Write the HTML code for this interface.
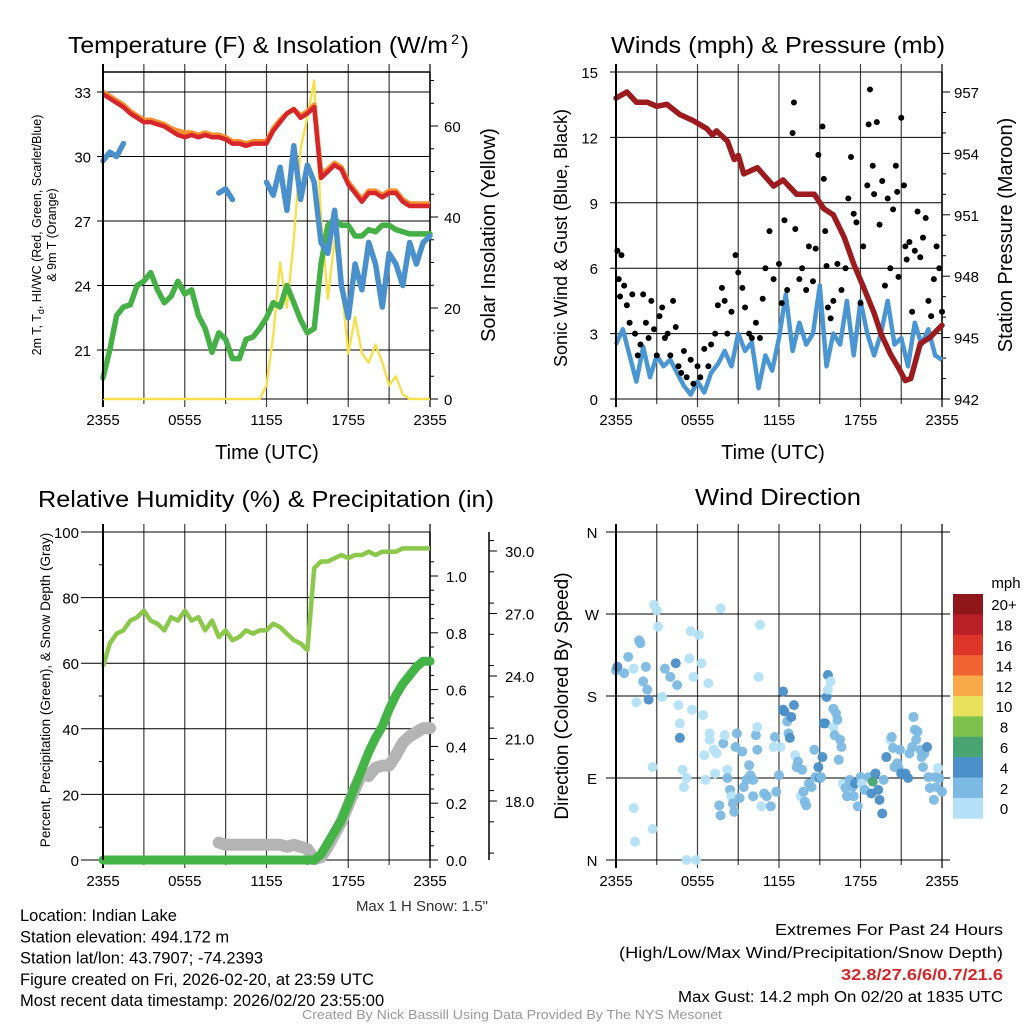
<!DOCTYPE html>
<html><head><meta charset="utf-8">
<style>
html,body{margin:0;padding:0;background:#fff;}
svg{display:block;font-family:"Liberation Sans Narrow","Liberation Sans",sans-serif;}
</style></head>
<body>
<svg id="chart" xmlns="http://www.w3.org/2000/svg" width="1024" height="1024" viewBox="0 0 1024 1024">
<rect x="0" y="0" width="1024" height="1024" fill="#fff"/>
<g id="layer"></g>
</svg>
<script>
// ---------- DATA ----------
const halfHours = [0,0.5,1,1.5,2,2.5,3,3.5,4,4.5,5,5.5,6,6.5,7,7.5,8,8.5,9,9.5,10,10.5,11,11.5,12,12.5,13,13.5,14,14.5,15,15.5,16,16.5,17,17.5,18,18.5,19,19.5,20,20.5,21,21.5,22,22.5,23,23.5,24];
const timeTickLabels = ["2355","0555","1155","1755","2355"];
const tempRed = [32.9,32.7,32.5,32.3,32.0,31.8,31.6,31.6,31.5,31.4,31.2,31.0,30.9,31.0,30.9,31.0,30.9,30.9,30.8,30.6,30.6,30.5,30.6,30.6,30.6,31.2,31.6,32.0,32.2,31.8,32.0,32.3,29.0,29.3,29.6,29.4,28.7,28.3,27.9,28.3,28.3,28.1,28.3,28.3,27.9,27.7,27.7,27.7,27.7];
const tempOrange = [33.0,32.8,32.6,32.4,32.1,31.9,31.7,31.7,31.6,31.5,31.3,31.2,31.1,31.1,31.0,31.1,31.0,31.0,30.9,30.7,30.7,30.6,30.7,30.7,30.7,31.3,31.7,32.0,32.2,31.9,32.1,32.4,29.2,29.4,29.7,29.5,28.8,28.4,28.0,28.4,28.4,28.2,28.4,28.4,28.0,27.8,27.8,27.8,27.8];
const dewGreen = [19.7,21.0,22.6,23.0,23.1,24.0,24.2,24.6,23.8,23.2,23.5,24.2,23.6,23.8,22.6,22.0,20.9,21.8,21.5,20.6,20.6,21.5,21.6,22.0,22.5,23.2,23.0,24.0,23.2,22.4,21.8,22.0,25.0,26.8,27.1,26.8,26.8,26.3,26.3,26.6,26.5,26.8,26.8,26.6,26.5,26.4,26.4,26.4,26.4];
const hiwcBlue = [29.8,30.2,30.0,30.6,null,29.9,null,null,null,null,null,null,null,null,null,null,null,28.3,28.5,28.0,null,29.0,null,null,28.8,28.2,29.5,27.5,30.5,28.0,29.6,28.8,26.0,25.5,27.5,24.0,22.5,25.0,23.8,26.0,25.0,23.0,25.5,25.0,24.0,26.0,25.0,26.0,26.3];
const solarYellow = [0,0,0,0,0,0,0,0,0,0,0,0,0,0,0,0,0,0,0,0,0,0,0,0,3,14,30,20,35,55,62,70,40,22,35,25,10,18,10,8,12,8,3,5,1,0,0,0,0];
const tempTicks = [21,24,27,30,33];
const solarTicks = [0,20,40,60];

const sonicBlue = [2.5,3.2,2.0,0.8,2.4,1.0,2.0,1.5,1.8,1.2,0.6,0.2,0.8,0.3,1.2,1.6,2.2,1.5,3.0,2.2,2.6,0.5,2.0,1.3,2.8,4.8,2.2,3.5,2.5,3.0,5.2,1.5,3.0,2.5,4.5,2.0,4.5,3.0,2.0,3.0,4.5,2.5,2.8,1.5,3.5,2.5,3.2,2.0,1.8];
const gustHours = [0.1,0.2,0.3,0.4,0.6,0.8,1,1.2,1.4,1.6,1.8,2,2.2,2.4,2.6,2.8,3,3.2,3.4,3.6,3.8,4,4.2,4.4,4.6,4.8,5,5.2,5.5,5.7,6,6.2,6.5,6.8,7,7.3,7.5,7.8,8,8.2,8.5,8.8,9,9.3,9.5,9.8,10,10.3,10.6,10.8,11,11.3,11.6,12,12.2,12.4,12.6,13.0,13.1,13.2,13.5,13.7,14,14.2,14.5,14.7,14.9,15.2,15.3,15.4,15.5,15.6,15.8,16,16.3,16.6,16.9,17.1,17.3,17.5,17.7,18,18.2,18.5,18.6,18.7,18.9,19,19.2,19.4,19.6,19.8,20,20.2,20.4,20.6,20.7,20.8,21,21.3,21.2,21.4,21.6,21.8,22,22.2,22.4,22.6,22.8,23,23.2,23.4,23.6,23.8,24];
const gustVals = [6.8,5.5,4.7,6.6,5.2,4.3,3.5,4.8,3.0,2.0,2.5,4.8,3.5,2.8,4.5,3.2,2.0,3.8,4.2,2.8,3.0,2.0,4.5,3.3,1.5,1.2,2.2,1.0,1.8,0.7,1.5,1.0,2.3,1.5,2.5,3.0,4.3,5.1,4.5,3.0,4.0,6.6,5.8,5.1,4.2,3.0,2.8,3.5,2.8,4.6,6.0,7.7,5.5,6.2,4.4,8.2,5.0,12.2,13.6,7.8,5.5,6.0,5.0,7.0,5.4,6.9,11.2,12.5,10.1,7.7,6.1,4.2,3.7,4.5,6.2,5.0,6.0,9.2,11.1,8.5,8.1,4.4,7.0,9.8,12.6,14.2,10.7,9.4,12.7,8.0,10.0,5.2,9.2,6.0,8.7,10.7,9.5,5.6,12.9,7.0,9.8,6.4,7.2,4.0,6.8,8.6,6.5,7.4,8.3,4.5,3.8,5.5,7.0,6.0,4.0];
const pressHours = [0,0.8,1.5,2.3,3,3.75,4.7,5.7,6.7,7.1,7.4,8.2,8.7,9.0,9.4,10.4,11.6,12.3,13.3,14.6,15.3,16.0,16.8,17.5,18.2,19.0,19.5,20.2,20.9,21.3,21.7,22.4,23.1,24];
const pressVals = [956.7,957.0,956.5,956.5,956.3,956.4,955.9,955.6,955.2,954.9,955.1,954.6,953.7,953.9,953.0,953.3,952.4,952.7,952.0,952.0,951.3,951.0,949.9,948.6,947.5,946.2,945.2,944.2,943.4,942.9,943.0,944.7,945.0,945.6];
const windTicks = [0,3,6,9,12,15];
const pressTicks = [942,945,948,951,954,957];

const rhGreen = [59,66,69,70,73,74,76,73,72,70,74,73,76,73,74,70,73,68,70,67,68,70,69,70,70,72,71,69,67,66,64,89,91,91,92,93,92,93,93,94,93,94,94,94,95,95,95,95,95];
const precipIn = [0,0,0,0,0,0,0,0,0,0,0,0,0,0,0,0,0,0,0,0,0,0,0,0,0,0,0,0,0,0,0,0,0.02,0.06,0.1,0.14,0.2,0.26,0.32,0.38,0.43,0.47,0.53,0.58,0.62,0.65,0.68,0.70,0.70];
const snowDepth = [null,null,null,null,null,null,null,null,null,null,null,null,null,null,null,null,null,16.0,15.9,15.9,15.9,15.9,15.9,15.9,15.9,15.9,15.9,15.8,15.9,15.8,15.7,15.2,15.3,15.8,16.4,17.0,17.8,18.6,19.3,19.2,19.6,19.7,19.7,20.2,20.8,21.1,21.3,21.5,21.5];
const pctTicks = [0,20,40,60,80,100];
const precipTicks = [0,0.2,0.4,0.6,0.8,1.0];
const snowTicks = [18,21,24,27,30];

const dirHours = [0,0.1,0.6,0.9,1.3,1.7,1.8,2.2,2.0,2.3,2.4,1.5,2.8,3.0,3.1,3.4,3.6,4.0,4.4,4.5,4.6,4.7,4.7,4.9,5.0,5.2,1.3,1.4,2.7,2.7,5.2,5.9,5.5,6.1,5.4,6.3,5.7,6.8,5.6,6.4,6.9,6.9,7.2,7.4,6.5,7.3,6.6,7.7,7.9,8.0,8.2,8.2,7.6,7.7,8.4,8.5,8.6,8.7,8.9,8.8,9.1,9.3,9.4,9.6,9.8,9.9,10.1,10.1,10.3,10.4,10.4,10.5,10.6,10.7,10.9,11.1,11.4,11.6,11.7,11.8,12.0,12.1,12.3,12.3,12.4,12.6,12.7,12.8,12.9,13.1,13.2,13.3,13.4,13.6,13.7,13.8,13.9,14.0,14.2,14.4,14.6,14.7,14.9,15.0,15.1,15.2,15.3,15.4,15.5,15.6,15.6,15.8,16.0,16.0,16.2,16.3,16.1,16.5,16.6,16.4,16.7,16.9,17.0,17.2,17.4,17.5,17.6,17.8,18.0,18.1,18.3,18.6,18.8,18.9,19.1,19.3,19.4,19.6,19.7,19.9,20.2,20.3,20.4,20.5,20.7,20.8,20.9,21.0,21.3,21.5,21.6,21.8,21.9,22.0,22.1,22.2,22.4,22.5,22.6,22.7,22.9,23.0,23.1,23.4,23.5,23.6,23.7,24.0,23.8];
const dirDeg = [208,212,205,223,210,241,238,212,196,187,176,173,280,274,256,179,210,201,216,192,170,150,134,99,80,90,57,20,34,102,0,0,251,247,221,216,201,194,165,159,139,132,121,117,115,95,88,276,128,137,99,90,60,49,77,70,62,53,139,124,68,119,80,88,104,93,88,70,137,121,146,201,258,59,73,70,59,124,135,75,93,124,185,165,163,152,139,134,157,170,115,102,108,70,99,75,64,60,84,80,121,91,102,90,91,113,150,150,179,187,203,196,146,166,161,154,137,132,124,110,84,79,70,88,80,70,84,59,91,84,77,91,73,86,95,77,66,51,88,113,132,135,123,102,106,101,121,95,95,90,117,124,157,143,132,141,121,113,102,117,124,91,79,66,91,80,101,75,90];
const dirSpeed = [3,4,2,3,1,2,3,3,3,2,4,1,1,1,1,1,3,3,4,3,1,1,4,1,1,1,1,1,1,1,1,1,1,1,1,1,1,1,1,1,1,1,1,1,1,1,1,1,3,1,1,3,3,3,3,1,3,3,3,2,3,3,3,3,3,3,3,3,3,3,1,1,1,1,3,3,3,1,3,3,3,1,4,4,4,3,3,4,4,4,1,3,3,1,3,3,3,3,3,3,3,3,4,4,3,4,4,4,4,1,5,1,1,3,3,3,3,3,3,3,1,3,3,3,3,3,4,3,3,1,3,3,4,6,4,4,4,4,3,4,1,3,3,3,3,3,3,4,4,4,3,3,3,3,3,3,3,3,3,3,4,3,3,3,3,3,1,3,3,3,3,3,2];
const speedBins = ["0","2","4","6","8","10","12","14","16","18","20+"];
const dirTickLabels = ["N","E","S","W","N"];

// ---------- HELPERS ----------
const NS = "http://www.w3.org/2000/svg";
const layer = document.getElementById('layer');
function mk(tag, attrs, parent){
  const e = document.createElementNS(NS, tag);
  for (const k in attrs) e.setAttribute(k, attrs[k]);
  (parent||layer).appendChild(e);
  return e;
}
function txt(x,y,s,size,anchor,extra){
  const a = {x:x,y:y,'font-size':size,'text-anchor':anchor||'middle',fill:'#000'};
  if (extra) for (const k in extra) a[k]=extra[k];
  const t = mk('text', a);
  t.textContent = s;
  return t;
}
function linScale(d0,d1,r0,r1){ return v => r0 + (v-d0)/(d1-d0)*(r1-r0); }
function pathFrom(xs, ys, fx, fy){
  let d = '', pen = false;
  for (let i=0;i<xs.length;i++){
    if (ys[i]===null || ys[i]===undefined){ pen=false; continue; }
    d += (pen?'L':'M') + fx(xs[i]).toFixed(1) + ',' + fy(ys[i]).toFixed(1);
    pen = true;
  }
  return d;
}
function panelFrame(x0,x1,y0,y1,name){
  const g = mk('g',{});
  
  
  return g;
}
function timeGrid(x0,x1,y0,y1,fx,withLabels){
  for (let h=0; h<=24; h+=3){
    const l = mk('line',{x1:fx(h),x2:fx(h),y1:y0-8,y2:y1+(h%6===0?8:5),stroke:'#000','stroke-width':(h===0?2:1.2),'stroke-opacity':(h===0||h===24?1:0.75)});
    
    
  }
  if (withLabels){
    for (let i=0;i<timeTickLabels.length;i++){
      const t = txt(fx(i*6), y1+26, timeTickLabels[i], 15);
      
      
    }
  }
}

// ============ PANEL 1: Temperature ============
{
  const X0=103,X1=430,Y0=72,Y1=399;
  const fx = linScale(0,24,X0,X1);
  const fy = linScale(33,21,92,350);
  const fs = linScale(0,60,399,126);
  panelFrame(X0,X1,Y0,Y1,'temperature-panel');
  for (const v of tempTicks){
    const l = mk('line',{x1:X0-6,x2:X1,y1:fy(v),y2:fy(v),stroke:'#000','stroke-width':1});
     
    const t = txt(X0-12, fy(v)+6, String(v), 15, 'end');
     
  }
  mk('line',{x1:X0,x2:X1,y1:Y0,y2:Y0,stroke:'#000','stroke-width':1.5});
  mk('line',{x1:X0,x2:X1,y1:Y1,y2:Y1,stroke:'#000','stroke-width':1});
  timeGrid(X0,X1,Y0,Y1,fx,true);
  mk('line',{x1:X1,x2:X1,y1:Y0,y2:Y1,stroke:'#000','stroke-width':1.5});
  for (let v=0; v<=70; v+=5){
    mk('line',{x1:X1,x2:X1+(v%20===0?8:4),y1:fs(v),y2:fs(v),stroke:'#000','stroke-width':1});
  }
  for (const v of solarTicks){
    const t = txt(X1+14, fs(v)+6, String(v), 15, 'start');
     
  }
  let p;
  p = mk('path',{d:pathFrom(halfHours,solarYellow,fx,fs),fill:'none',stroke:'#f6e04e','stroke-width':2.4,'stroke-linejoin':'round'});
   
  p = mk('path',{d:pathFrom(halfHours,dewGreen,fx,fy),fill:'none',stroke:'#45b046','stroke-width':5.5,'stroke-linejoin':'round','stroke-linecap':'round'});
   
  p = mk('path',{d:pathFrom(halfHours,hiwcBlue,fx,fy),fill:'none',stroke:'#4a90cc','stroke-width':5.5,'stroke-linejoin':'round','stroke-linecap':'round'});
   
  p = mk('path',{d:pathFrom(halfHours,tempOrange,fx,fy),fill:'none',stroke:'#f7902f','stroke-width':5,'stroke-linejoin':'round'});
   
  p = mk('path',{d:pathFrom(halfHours,tempRed,fx,fy),fill:'none',stroke:'#d7262b','stroke-width':4.5,'stroke-linejoin':'round'});
   
  mk('line',{x1:X0,x2:X0,y1:Y0,y2:Y1,stroke:'#000','stroke-width':2});
  let t = txt(258,53,'Temperature (F) & Insolation (W/m',23,'middle',{textLength:380,lengthAdjust:'spacingAndGlyphs'});
   
  t = txt(455,44,'2',14,'middle');  
  t = txt(465,53,')',23,'middle');  
  t = txt(267,459,'Time (UTC)',20);  
  t = txt(0,0,'Solar Insolation (Yellow)',20,'middle',{transform:'translate(495,235) rotate(-90)'});
   
  t = mk('text',{'font-size':12.5,'text-anchor':'middle',transform:'translate(41,235) rotate(-90)',fill:'#000'});
  t.innerHTML = '2m T, T<tspan font-size="9" dy="3">d</tspan><tspan dy="-3">, HI/WC (Red, Green, Scarlet/Blue)</tspan>';
   
  t = txt(0,0,'& 9m T (Orange)',12.5,'middle',{transform:'translate(56,235) rotate(-90)'});
   
}

// ============ PANEL 2: Winds ============
{
  const X0=616,X1=942,Y0=72,Y1=399;
  const fx = linScale(0,24,X0,X1);
  const fy = linScale(0,15,Y1,Y0);
  const fp = linScale(942,957,399,92);
  panelFrame(X0,X1,Y0,Y1,'winds-panel');
  for (const v of windTicks){
    const l = mk('line',{x1:X0-6,x2:X1,y1:fy(v),y2:fy(v),stroke:'#000','stroke-width':1});
     
    const t = txt(X0-18, fy(v)+6, String(v), 15, 'end');
     
  }
  mk('line',{x1:X0,x2:X1,y1:Y1,y2:Y1,stroke:'#000','stroke-width':1});
  timeGrid(X0,X1,Y0,Y1,fx,true);
  mk('line',{x1:X1,x2:X1,y1:Y0,y2:Y1,stroke:'#000','stroke-width':1.5});
  for (let v=942; v<=957; v+=1){
    mk('line',{x1:X1,x2:X1+((v-942)%3===0?8:4),y1:fp(v),y2:fp(v),stroke:'#000','stroke-width':1});
  }
  for (const v of pressTicks){
    const t = txt(X1+12, fp(v)+6, String(v), 15, 'start');
     
  }
  let p = mk('path',{d:pathFrom(halfHours,sonicBlue,fx,fy),fill:'none',stroke:'#4a96d2','stroke-width':4.5,'stroke-linejoin':'round'});
   
  for (let i=0;i<gustHours.length;i++){
    const c = mk('circle',{cx:fx(gustHours[i]),cy:fy(gustVals[i]),r:3,fill:'#000'});
     
  }
  p = mk('path',{d:pathFrom(pressHours,pressVals,fx,fp),fill:'none',stroke:'#9b1b1e','stroke-width':5.5,'stroke-linejoin':'round','stroke-linecap':'round'});
   
  mk('line',{x1:X0,x2:X0,y1:Y0,y2:Y1,stroke:'#000','stroke-width':2});
  let t = txt(778,53,'Winds (mph) & Pressure (mb)',23,'middle',{textLength:334,lengthAdjust:'spacingAndGlyphs'});
   
  t = txt(773,459,'Time (UTC)',20);  
  t = txt(0,0,'Sonic Wind & Gust (Blue, Black)',18,'middle',{transform:'translate(567,238) rotate(-90)'});
   
  t = txt(0,0,'Station Pressure (Maroon)',20,'middle',{transform:'translate(1012,235) rotate(-90)'});
   
}

// ============ PANEL 3: RH / Precip ============
{
  const X0=103,X1=430,Y0=532,Y1=860;
  const fx = linScale(0,24,X0,X1);
  const fy = linScale(0,100,Y1,Y0);
  const fpr = linScale(0,1,860,576);
  const fsn = linScale(18,30,801,551);
  panelFrame(X0,X1,Y0,Y1,'humidity-panel');
  for (const v of pctTicks){
    const l = mk('line',{x1:X0-22,x2:X1,y1:fy(v),y2:fy(v),stroke:'#000','stroke-width':1});
     
    const t = txt(X0-24, fy(v)+6, String(v), 15, 'end');
     
  }
  for (let v=10; v<100; v+=20) mk('line',{x1:X0-4,x2:X0,y1:fy(v),y2:fy(v),stroke:'#000','stroke-width':1});
  timeGrid(X0,X1,Y0,Y1,fx,true);
  mk('line',{x1:X1,x2:X1,y1:Y0,y2:Y1,stroke:'#000','stroke-width':1.5});
  for (let v=0; v<=1.1; v+=0.05){
    const major = Math.round(v*100)%20===0;
    mk('line',{x1:X1,x2:X1+(major?8:4),y1:fpr(v),y2:fpr(v),stroke:'#000','stroke-width':1});
  }
  for (const v of precipTicks){
    const t = txt(X1+16, fpr(v)+6, v.toFixed(1), 15, 'start');
     
  }
  mk('line',{x1:489,x2:489,y1:Y0,y2:Y1,stroke:'#000','stroke-width':1.5});
  for (let v=15.5; v<=31; v+=1.5) mk('line',{x1:489,x2:494,y1:fsn(v),y2:fsn(v),stroke:'#000','stroke-width':1});
  for (const v of snowTicks){
    mk('line',{x1:489,x2:497,y1:fsn(v),y2:fsn(v),stroke:'#000','stroke-width':1});
    const t = txt(505, fsn(v)+6, v.toFixed(1), 15, 'start');
     
  }
  const fsnClamp = v => Math.min(860, fsn(v));
  let p = mk('path',{d:pathFrom(halfHours,snowDepth,fx,fsnClamp),fill:'none',stroke:'#b4b4b4','stroke-width':12,'stroke-linejoin':'round','stroke-linecap':'round'});
   
  p = mk('path',{d:pathFrom(halfHours,precipIn,fx,fpr),fill:'none',stroke:'#45b446','stroke-width':9,'stroke-linejoin':'round','stroke-linecap':'round'});
   
  p = mk('path',{d:pathFrom(halfHours,rhGreen,fx,fy),fill:'none',stroke:'#8cc84b','stroke-width':4.5,'stroke-linejoin':'round'});
   
  mk('line',{x1:X0,x2:X0,y1:Y0,y2:Y1,stroke:'#000','stroke-width':2});
  let t = txt(266,507,'Relative Humidity (%) & Precipitation (in)',23,'middle',{textLength:456,lengthAdjust:'spacingAndGlyphs'});
   
  t = txt(0,0,'Percent, Precipitation (Green), & Snow Depth (Gray)',13.5,'middle',{transform:'translate(50,690) rotate(-90)'});
   
  t = txt(488,911,'Max 1 H Snow: 1.5"',15,'end',{fill:'#333'});
   
}

// ============ PANEL 4: Wind Direction ============
{
  const X0=616,X1=942,Y0=532,Y1=860;
  const fx = linScale(0,24,X0,X1);
  const fy = linScale(0,360,Y1,Y0);
  panelFrame(X0,X1,Y0,Y1,'wind-direction-panel');
  for (let i=0;i<dirTickLabels.length;i++){
    const v = i*90;
    const l = mk('line',{x1:X0-10,x2:X1+8,y1:fy(v),y2:fy(v),stroke:'#000','stroke-width':1});
     
    const t = txt(X0-24, fy(v)+6, dirTickLabels[i], 15, 'middle');
     
  }
  timeGrid(X0,X1,Y0,Y1,fx,true);
  const speedColors = ['#b4e1f7','#7cb9e3','#4a8fc7','#48a470','#7cc24c','#e7e15b','#f7aa47','#ef6431','#de352a','#ba1e27','#8f1619'];
  for (let i=0;i<dirHours.length;i++){
    const ci = Math.min(10, Math.floor(dirSpeed[i]/2));
    const c = mk('circle',{cx:fx(dirHours[i]),cy:fy(dirDeg[i]),r:5,fill:speedColors[ci],'fill-opacity':0.95});
     
  }
  mk('line',{x1:X0,x2:X0,y1:Y0,y2:Y1,stroke:'#000','stroke-width':2});
  const cbTop=594, cbH=20.4;
  for (let i=0;i<speedBins.length;i++){
    const idx = speedBins.length-1-i;
    const r = mk('rect',{x:953,y:cbTop+i*cbH,width:30,height:cbH+0.3,fill:speedColors[idx]});
     
    const t = txt(1004, cbTop+i*cbH+cbH/2+6, speedBins[idx], 15, 'middle');
     
  }
  let t = txt(1006,588,'mph',15,'middle');  
  t = txt(778,505,'Wind Direction',23,'middle',{textLength:166,lengthAdjust:'spacingAndGlyphs'});
   
  t = txt(0,0,'Direction (Colored By Speed)',19,'middle',{transform:'translate(568,696) rotate(-90)'});
   
}

// ============ FOOTER TEXT ============
{
  const left = [
    'Location: Indian Lake',
    'Station elevation: 494.172 m',
    'Station lat/lon: 43.7907; -74.2393',
    'Figure created on Fri, 2026-02-20, at 23:59 UTC',
    'Most recent data timestamp: 2026/02/20 23:55:00'
  ];
  for (let i=0;i<left.length;i++){
    const t = txt(20, 921+i*21.3, left[i], 16.5, 'start');
     
  }
  let t = txt(1003,935,'Extremes For Past 24 Hours',16,'end',{textLength:228,lengthAdjust:'spacingAndGlyphs'});
   
  t = txt(1003,958,'(High/Low/Max Wind/Precipitation/Snow Depth)',16,'end',{textLength:384,lengthAdjust:'spacingAndGlyphs'});
   
  t = txt(1003,980,'32.8/27.6/6/0.7/21.6',16,'end',{fill:'#d7262b','font-weight':'bold',textLength:162,lengthAdjust:'spacingAndGlyphs'});
   
  t = txt(1003,1002,'Max Gust: 14.2 mph On 02/20 at 1835 UTC',15.5,'end',{textLength:325,lengthAdjust:'spacingAndGlyphs'});
   
  t = txt(512,1019,'Created By Nick Bassill Using Data Provided By The NYS Mesonet',12.5,'middle',{fill:'#999',textLength:420,lengthAdjust:'spacingAndGlyphs'});
   
}
</script>
</body></html>
